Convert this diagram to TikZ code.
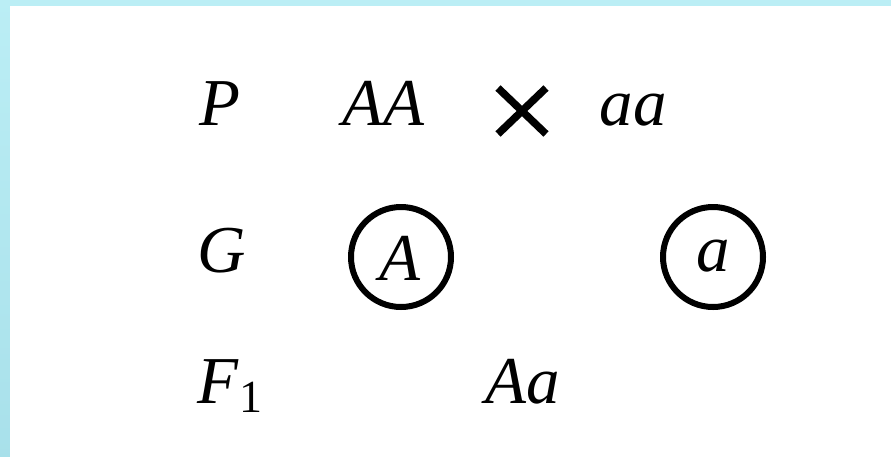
\documentclass[tikz,border=0pt]{standalone}
\usepackage{fontspec}
\setmainfont{Liberation Serif}
\definecolor{frametop}{HTML}{BBEEF5}
\definecolor{framebot}{HTML}{A8E0EA}
\begin{document}
\begin{tikzpicture}[x=1pt,y=-1pt,
  lbl/.style={anchor=base,inner sep=0pt,font=\fontsize{67}{72}\selectfont\itshape},
  gamete/.style={circle,draw,line width=6pt,minimum size=100pt,inner sep=0pt}]
\useasboundingbox (0,0) rectangle (891,456);
\shade[top color=frametop,bottom color=framebot] (-5,-5) rectangle (900,465);
\fill[white] (10,6) rectangle (900,465);
% row P
\node[lbl] (P) at (220,125) {P};
\node[lbl] (AA) at (383,125) {AA};
\node[lbl] (aa) at (633,125) {aa};
\coordinate (x1) at (498,88);
\coordinate (x2) at (546,134);
\coordinate (x3) at (546,88);
\coordinate (x4) at (498,134);
\draw[line width=7.5pt] (x1) -- (x2) (x3) -- (x4);
% row G
\node[lbl] (G) at (222,272) {G};
\node[gamete] (gA) at (401,257) {};
\node[lbl] (A) at (400,280) {A};
\node[gamete] (ga) at (713,257) {};
\node[lbl] (a) at (713,271) {a};
% row F1
\node[lbl,anchor=base west] (F) at (197,403) {F\kern1pt\raisebox{-9pt}{\upshape\fontsize{46}{50}\selectfont 1}};
\node[lbl] (Aa) at (523,403) {Aa};
\end{tikzpicture}
\end{document}
